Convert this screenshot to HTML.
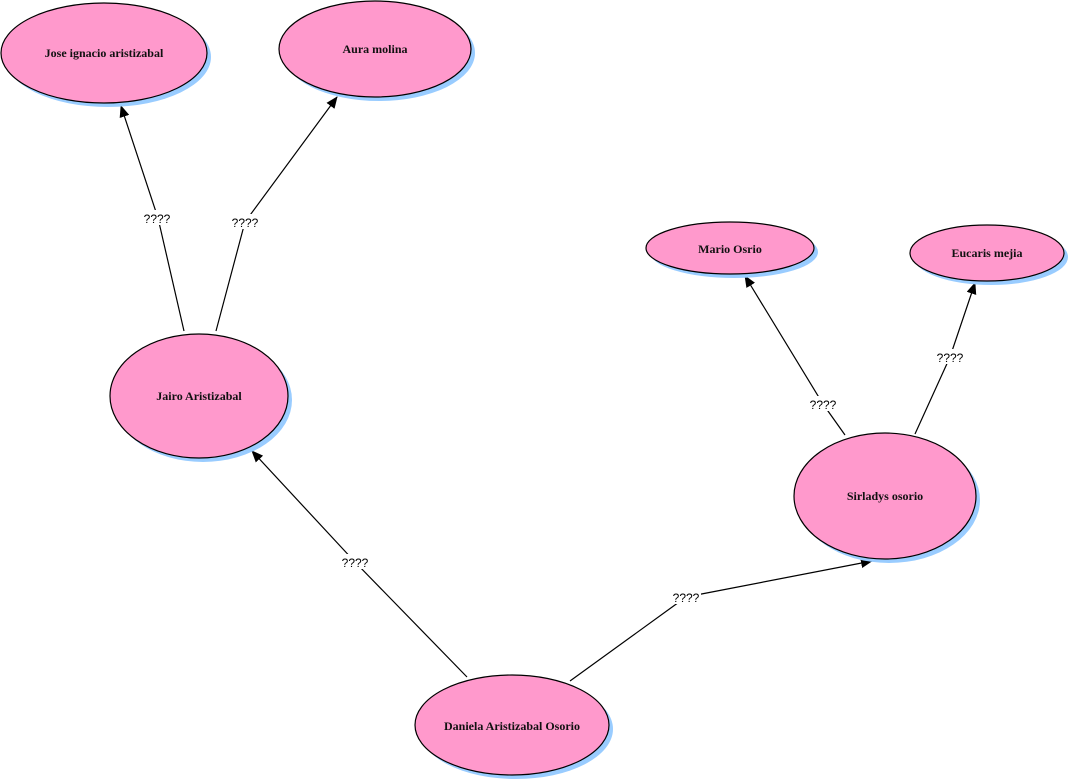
<!DOCTYPE html>
<html><head><style>body{margin:0;background:#fff}svg{display:block}</style></head><body>
<svg width="1071" height="783" viewBox="0 0 1071 783" xmlns="http://www.w3.org/2000/svg">
<defs><marker id="a" markerWidth="12" markerHeight="10" refX="11" refY="5" orient="auto" markerUnits="userSpaceOnUse"><path d="M0,0 L12,5 L0,10 z" fill="#000"/></marker></defs>
<g stroke="#000" stroke-width="1.2" fill="none" marker-end="url(#a)">
<polyline points="184,331 158,218 121,106"/>
<polyline points="216,331 245,222 337,97"/>
<polyline points="845,435 823,404 745,276"/>
<polyline points="915,434 950,357 975,283"/>
<polyline points="467,677 355,562 252,451"/>
<polyline points="570,681 686,597 872,561"/>
</g>
<g font-family="Liberation Sans, sans-serif" font-size="12" text-anchor="middle">
<rect x="142" y="210" width="30" height="15" fill="#fff"/><text x="157" y="223">????</text>
<rect x="230" y="214" width="30" height="15" fill="#fff"/><text x="245" y="227">????</text>
<rect x="808" y="396" width="30" height="15" fill="#fff"/><text x="823" y="409">????</text>
<rect x="935" y="349" width="30" height="15" fill="#fff"/><text x="950" y="362">????</text>
<rect x="340" y="554" width="30" height="15" fill="#fff"/><text x="355" y="567">????</text>
<rect x="671" y="589" width="30" height="15" fill="#fff"/><text x="686" y="602">????</text>
</g>
<g fill="#99ccff">
<ellipse cx="108" cy="57" rx="103" ry="50"/>
<ellipse cx="379" cy="53" rx="96" ry="48"/>
<ellipse cx="734" cy="252" rx="84" ry="26"/>
<ellipse cx="991" cy="257" rx="77" ry="28"/>
<ellipse cx="203" cy="400" rx="89" ry="62"/>
<ellipse cx="889" cy="500" rx="91" ry="63"/>
<ellipse cx="516" cy="729" rx="97" ry="50"/>
</g>
<g fill="#ff99cc" stroke="#000" stroke-width="1.2">
<ellipse cx="104" cy="53" rx="103" ry="50"/>
<ellipse cx="375" cy="49" rx="96" ry="48"/>
<ellipse cx="730" cy="248" rx="84" ry="26"/>
<ellipse cx="987" cy="253" rx="77" ry="28"/>
<ellipse cx="199" cy="396" rx="89" ry="62"/>
<ellipse cx="885" cy="496" rx="91" ry="63"/>
<ellipse cx="512" cy="725" rx="97" ry="50"/>
</g>
<g font-family="Liberation Serif, serif" font-weight="bold" font-size="12" text-anchor="middle" fill="#111">
<text x="104" y="57">Jose ignacio aristizabal</text>
<text x="375" y="53">Aura molina</text>
<text x="730" y="253">Mario Osrio</text>
<text x="987" y="257">Eucaris mejia</text>
<text x="199" y="400">Jairo Aristizabal</text>
<text x="885" y="500">Sirladys osorio</text>
<text x="512" y="730">Daniela Aristizabal Osorio</text>
</g>
</svg>
</body></html>
